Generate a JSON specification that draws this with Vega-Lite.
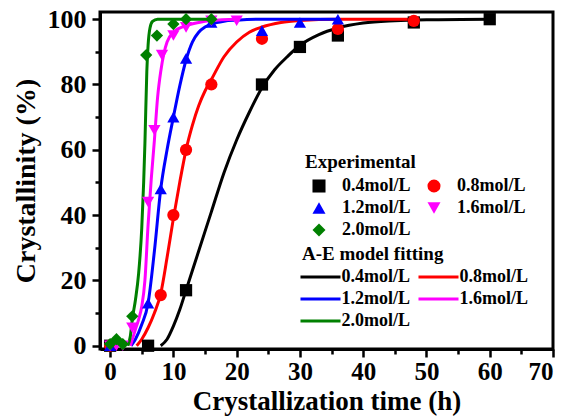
{
  "$schema": "https://vega.github.io/schema/vega-lite/v6.json",
  "width": 453,
  "height": 337,
  "autosize": {"type": "none"},
  "padding": {"left": 100, "top": 12, "right": 18, "bottom": 68},
  "background": "white",
  "config": {
    "font": "Liberation Serif",
    "view": {"stroke": "black", "strokeWidth": 3},
    "axis": {
      "grid": false,
      "labelFont": "Liberation Serif",
      "labelFontWeight": "bold",
      "labelFontSize": 26,
      "labelColor": "black",
      "titleFont": "Liberation Serif",
      "titleFontWeight": "bold",
      "titleFontSize": 28,
      "titleColor": "black",
      "domainColor": "black",
      "domainWidth": 3,
      "tickColor": "black",
      "tickWidth": 2.5
    },
    "legend": {
      "titleFont": "Liberation Serif",
      "titleFontWeight": "bold",
      "titleFontSize": 19,
      "titleColor": "black",
      "labelFont": "Liberation Serif",
      "labelFontWeight": "bold",
      "labelFontSize": 18,
      "labelColor": "black"
    }
  },
  "datasets": {
    "exp": [
      {"conc": "0.4mol/L", "t": 0, "y": 0},
      {"conc": "0.4mol/L", "t": 6, "y": 0},
      {"conc": "0.4mol/L", "t": 12, "y": 17},
      {"conc": "0.4mol/L", "t": 24, "y": 80},
      {"conc": "0.4mol/L", "t": 30, "y": 91.5},
      {"conc": "0.4mol/L", "t": 36, "y": 95},
      {"conc": "0.4mol/L", "t": 48, "y": 99},
      {"conc": "0.4mol/L", "t": 60, "y": 100},
      {"conc": "0.8mol/L", "t": 0, "y": 0},
      {"conc": "0.8mol/L", "t": 8, "y": 15.5},
      {"conc": "0.8mol/L", "t": 10, "y": 40},
      {"conc": "0.8mol/L", "t": 12, "y": 60},
      {"conc": "0.8mol/L", "t": 16, "y": 80},
      {"conc": "0.8mol/L", "t": 24, "y": 94},
      {"conc": "0.8mol/L", "t": 36, "y": 97},
      {"conc": "0.8mol/L", "t": 48, "y": 99.5},
      {"conc": "1.2mol/L", "t": 0, "y": 0},
      {"conc": "1.2mol/L", "t": 6, "y": 13},
      {"conc": "1.2mol/L", "t": 8, "y": 48},
      {"conc": "1.2mol/L", "t": 10, "y": 70},
      {"conc": "1.2mol/L", "t": 12, "y": 88},
      {"conc": "1.2mol/L", "t": 16, "y": 99},
      {"conc": "1.2mol/L", "t": 24, "y": 96.5},
      {"conc": "1.2mol/L", "t": 30, "y": 99},
      {"conc": "1.2mol/L", "t": 36, "y": 100},
      {"conc": "1.6mol/L", "t": 0, "y": 0},
      {"conc": "1.6mol/L", "t": 1, "y": 0},
      {"conc": "1.6mol/L", "t": 2, "y": 0},
      {"conc": "1.6mol/L", "t": 3.5, "y": 5.5},
      {"conc": "1.6mol/L", "t": 6, "y": 44},
      {"conc": "1.6mol/L", "t": 7, "y": 66},
      {"conc": "1.6mol/L", "t": 8.2, "y": 89},
      {"conc": "1.6mol/L", "t": 10, "y": 95},
      {"conc": "1.6mol/L", "t": 12, "y": 97.5},
      {"conc": "1.6mol/L", "t": 16, "y": 99.5},
      {"conc": "1.6mol/L", "t": 20, "y": 99.5},
      {"conc": "2.0mol/L", "t": 0, "y": 0.5},
      {"conc": "2.0mol/L", "t": 1, "y": 2},
      {"conc": "2.0mol/L", "t": 2, "y": 0.5},
      {"conc": "2.0mol/L", "t": 3.5, "y": 9},
      {"conc": "2.0mol/L", "t": 5.7, "y": 89},
      {"conc": "2.0mol/L", "t": 7.4, "y": 95},
      {"conc": "2.0mol/L", "t": 10, "y": 98.5},
      {"conc": "2.0mol/L", "t": 12, "y": 100},
      {"conc": "2.0mol/L", "t": 16, "y": 100}
    ],
    "fit": [
      {"conc": "0.4mol/L", "t": 8, "y": 0},
      {"conc": "0.4mol/L", "t": 9, "y": 2},
      {"conc": "0.4mol/L", "t": 10, "y": 6},
      {"conc": "0.4mol/L", "t": 11, "y": 11},
      {"conc": "0.4mol/L", "t": 12, "y": 17},
      {"conc": "0.4mol/L", "t": 14, "y": 29},
      {"conc": "0.4mol/L", "t": 16, "y": 41},
      {"conc": "0.4mol/L", "t": 18, "y": 53},
      {"conc": "0.4mol/L", "t": 20, "y": 63},
      {"conc": "0.4mol/L", "t": 22, "y": 71.5},
      {"conc": "0.4mol/L", "t": 24, "y": 79},
      {"conc": "0.4mol/L", "t": 26, "y": 84.5},
      {"conc": "0.4mol/L", "t": 28, "y": 88.5},
      {"conc": "0.4mol/L", "t": 30, "y": 92},
      {"conc": "0.4mol/L", "t": 33, "y": 95.3},
      {"conc": "0.4mol/L", "t": 36, "y": 97.3},
      {"conc": "0.4mol/L", "t": 40, "y": 98.8},
      {"conc": "0.4mol/L", "t": 45, "y": 99.5},
      {"conc": "0.4mol/L", "t": 50, "y": 99.8},
      {"conc": "0.4mol/L", "t": 60, "y": 100},
      {"conc": "0.8mol/L", "t": 4.2, "y": 0},
      {"conc": "0.8mol/L", "t": 5, "y": 2},
      {"conc": "0.8mol/L", "t": 6, "y": 5.5},
      {"conc": "0.8mol/L", "t": 7, "y": 10},
      {"conc": "0.8mol/L", "t": 8, "y": 16},
      {"conc": "0.8mol/L", "t": 9, "y": 27},
      {"conc": "0.8mol/L", "t": 10, "y": 39},
      {"conc": "0.8mol/L", "t": 11, "y": 50},
      {"conc": "0.8mol/L", "t": 12, "y": 60},
      {"conc": "0.8mol/L", "t": 13, "y": 67.5},
      {"conc": "0.8mol/L", "t": 14, "y": 73.5},
      {"conc": "0.8mol/L", "t": 15, "y": 78},
      {"conc": "0.8mol/L", "t": 16, "y": 81.5},
      {"conc": "0.8mol/L", "t": 18, "y": 88.5},
      {"conc": "0.8mol/L", "t": 20, "y": 93},
      {"conc": "0.8mol/L", "t": 22, "y": 96},
      {"conc": "0.8mol/L", "t": 24, "y": 97.6},
      {"conc": "0.8mol/L", "t": 27, "y": 99},
      {"conc": "0.8mol/L", "t": 30, "y": 99.6},
      {"conc": "0.8mol/L", "t": 36, "y": 100},
      {"conc": "0.8mol/L", "t": 48, "y": 100},
      {"conc": "1.2mol/L", "t": 3.3, "y": 0},
      {"conc": "1.2mol/L", "t": 4, "y": 2},
      {"conc": "1.2mol/L", "t": 5, "y": 6.5},
      {"conc": "1.2mol/L", "t": 6, "y": 13},
      {"conc": "1.2mol/L", "t": 7, "y": 29},
      {"conc": "1.2mol/L", "t": 8, "y": 48},
      {"conc": "1.2mol/L", "t": 9, "y": 60},
      {"conc": "1.2mol/L", "t": 10, "y": 70},
      {"conc": "1.2mol/L", "t": 11, "y": 79.5},
      {"conc": "1.2mol/L", "t": 12, "y": 87.5},
      {"conc": "1.2mol/L", "t": 13, "y": 93},
      {"conc": "1.2mol/L", "t": 14, "y": 96},
      {"conc": "1.2mol/L", "t": 15, "y": 97.6},
      {"conc": "1.2mol/L", "t": 16, "y": 98.5},
      {"conc": "1.2mol/L", "t": 18, "y": 99.4},
      {"conc": "1.2mol/L", "t": 20, "y": 99.7},
      {"conc": "1.2mol/L", "t": 24, "y": 100},
      {"conc": "1.2mol/L", "t": 36, "y": 100},
      {"conc": "1.6mol/L", "t": 3.2, "y": 0},
      {"conc": "1.6mol/L", "t": 3.6, "y": 2.5},
      {"conc": "1.6mol/L", "t": 4, "y": 5},
      {"conc": "1.6mol/L", "t": 4.5, "y": 8},
      {"conc": "1.6mol/L", "t": 5, "y": 12},
      {"conc": "1.6mol/L", "t": 5.5, "y": 20},
      {"conc": "1.6mol/L", "t": 6, "y": 37},
      {"conc": "1.6mol/L", "t": 6.5, "y": 51},
      {"conc": "1.6mol/L", "t": 7, "y": 63},
      {"conc": "1.6mol/L", "t": 7.5, "y": 76},
      {"conc": "1.6mol/L", "t": 8, "y": 84},
      {"conc": "1.6mol/L", "t": 8.5, "y": 89.5},
      {"conc": "1.6mol/L", "t": 9, "y": 93},
      {"conc": "1.6mol/L", "t": 10, "y": 96},
      {"conc": "1.6mol/L", "t": 12, "y": 98},
      {"conc": "1.6mol/L", "t": 14, "y": 99},
      {"conc": "1.6mol/L", "t": 16, "y": 99.6},
      {"conc": "1.6mol/L", "t": 20, "y": 100},
      {"conc": "2.0mol/L", "t": 2.8, "y": 0},
      {"conc": "2.0mol/L", "t": 3.2, "y": 3},
      {"conc": "2.0mol/L", "t": 3.5, "y": 8},
      {"conc": "2.0mol/L", "t": 4, "y": 14},
      {"conc": "2.0mol/L", "t": 4.5, "y": 22},
      {"conc": "2.0mol/L", "t": 5, "y": 36},
      {"conc": "2.0mol/L", "t": 5.3, "y": 50},
      {"conc": "2.0mol/L", "t": 5.5, "y": 62},
      {"conc": "2.0mol/L", "t": 5.8, "y": 84},
      {"conc": "2.0mol/L", "t": 6, "y": 92},
      {"conc": "2.0mol/L", "t": 6.3, "y": 97.3},
      {"conc": "2.0mol/L", "t": 6.7, "y": 99.3},
      {"conc": "2.0mol/L", "t": 7.5, "y": 100},
      {"conc": "2.0mol/L", "t": 16, "y": 100}
    ]
  },
  "encoding": {
    "x": {
      "field": "t",
      "type": "quantitative",
      "scale": {"domain": [-1.6, 70], "nice": false, "zero": false},
      "axis": {
        "title": "Crystallization time (h)",
        "values": [0, 5, 10, 15, 20, 25, 30, 35, 40, 45, 50, 55, 60, 65, 70],
        "labelExpr": "datum.value % 10 === 0 ? datum.label : ''",
        "tickSize": {"condition": {"test": "datum.value % 10 === 0", "value": 8}, "value": 5},
        "labelFontSize": 25,
        "labelPadding": 2,
        "titleFontSize": 27,
        "titleBaseline": "alphabetic",
        "titleY": 60
      }
    },
    "y": {
      "field": "y",
      "type": "quantitative",
      "scale": {"domain": [-1, 102.2], "nice": false, "zero": false},
      "axis": {
        "title": "Crystallinity (%)",
        "values": [0, 10, 20, 30, 40, 50, 60, 70, 80, 90, 100],
        "labelExpr": "datum.value % 20 === 0 ? datum.label : ''",
        "tickSize": {"condition": {"test": "datum.value % 20 === 0", "value": 8}, "value": 5},
        "labelPadding": 6,
        "titleBaseline": "alphabetic",
        "titleX": -66
      }
    }
  },
  "layer": [
    {
      "data": {"name": "fit"},
      "mark": {"type": "line", "strokeWidth": 3, "interpolate": "monotone"},
      "encoding": {
        "stroke": {
          "field": "conc",
          "type": "nominal",
          "scale": {"range": ["#000000", "#ff0000", "#0000ff", "#ff00ff", "#008000"]},
          "legend": {
            "title": "A-E model fitting",
            "orient": "none",
            "legendX": 202,
            "legendY": 233,
            "columns": 2,
            "direction": "horizontal",
            "symbolType": "M-3,0H3",
            "symbolSize": 178,
            "symbolStrokeWidth": 3,
            "symbolOffset": 9.5,
            "labelOffset": 12,
            "columnPadding": 1,
            "rowPadding": 4,
            "titlePadding": 4
          }
        }
      }
    },
    {
      "data": {"name": "exp"},
      "mark": {"type": "point", "filled": true, "size": 150, "opacity": 1},
      "encoding": {
        "color": {
          "field": "conc",
          "type": "nominal",
          "scale": {"range": ["#000000", "#ff0000", "#0000ff", "#ff00ff", "#008000"]},
          "legend": {
            "title": "Experimental",
            "orient": "none",
            "legendX": 205,
            "legendY": 141,
            "columns": 2,
            "direction": "horizontal",
            "symbolSize": 170,
            "symbolOffset": 5,
            "labelOffset": 14,
            "columnPadding": 9,
            "rowPadding": 4,
            "titlePadding": 5
          }
        },
        "shape": {
          "field": "conc",
          "type": "nominal",
          "scale": {"range": ["square", "circle", "triangle-up", "triangle-down", "diamond"]},
          "legend": {
            "title": "Experimental",
            "orient": "none",
            "legendX": 205,
            "legendY": 141,
            "columns": 2,
            "direction": "horizontal",
            "symbolSize": 170,
            "symbolOffset": 5,
            "labelOffset": 14,
            "columnPadding": 9,
            "rowPadding": 4,
            "titlePadding": 5
          }
        }
      }
    }
  ]
}
